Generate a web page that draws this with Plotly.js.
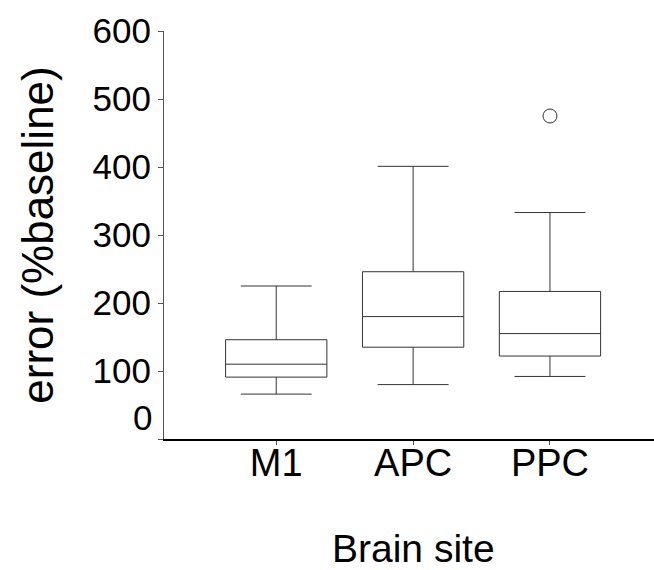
<!DOCTYPE html>
<html>
<head>
<meta charset="utf-8">
<script src="https://cdn.plot.ly/plotly-3.0.1.min.js"></script>
<style>html,body{margin:0;padding:0;background:#fff;}#chart{width:654px;height:570px;}</style>
</head>
<body>
<div id="chart"></div>
<script>
const sites = ["M1", "APC", "PPC"];
const lowerWhisker = [66, 80, 92];
const q1 = [91, 135, 122];
const median = [110, 180, 155];
const q3 = [146, 246, 217];
const upperWhisker = [225, 401, 333];
const outlierSite = ["PPC"];
const outlierValue = [475];
const yTickVals = [0, 100, 200, 300, 400, 500, 600];
const yTickText = ["", "100", "200", "300", "400", "500", "600"];

const font = "Liberation Sans, Arial, sans-serif";

const traces = [
  {
    type: "box",
    x: sites,
    q1: q1,
    median: median,
    q3: q3,
    lowerfence: lowerWhisker,
    upperfence: upperWhisker,
    boxpoints: false,
    width: 0.74,
    whiskerwidth: 0.7,
    fillcolor: "rgba(0,0,0,0)",
    line: {color: "#333", width: 1},
    showlegend: false,
    hoverinfo: "skip"
  },
  {
    type: "scatter",
    mode: "markers",
    x: outlierSite,
    y: outlierValue,
    marker: {symbol: "circle-open", size: 14, color: "#333", line: {width: 1, color: "#333"}},
    showlegend: false,
    hoverinfo: "skip"
  }
];

const layout = {
  width: 654,
  height: 570,
  margin: {l: 164, r: 0, t: 31, b: 131},
  paper_bgcolor: "#fff",
  plot_bgcolor: "#fff",
  font: {family: font, color: "#000"},
  xaxis: {
    type: "category",
    categoryorder: "array",
    categoryarray: sites,
    range: [-0.82, 2.76],
    showline: true,
    linecolor: "#000",
    linewidth: 1.5,
    ticks: "outside",
    ticklen: 4,
    tickcolor: "#555",
    ticklabelstandoff: -14,
    tickfont: {size: 38, family: font, color: "#000"},
    showgrid: false,
    zeroline: false
  },
  yaxis: {
    range: [0, 600],
    tickmode: "array",
    tickvals: yTickVals,
    ticktext: yTickText,
    showline: true,
    linecolor: "#555",
    linewidth: 1,
    ticks: "outside",
    ticklen: 5,
    tickcolor: "#555",
    tickfont: {size: 35, family: font, color: "#000"},
    showgrid: false,
    zeroline: false,
    title: {text: "error (%baseline)", font: {size: 44, family: font, color: "#000"}, standoff: 25}
  },
  annotations: [
    {
      xref: "paper", yref: "y",
      x: 0, y: 0,
      xanchor: "right", yanchor: "middle",
      xshift: -10, yshift: 22,
      text: "0",
      showarrow: false,
      font: {size: 35, family: font, color: "#000"}
    },
    {
      xref: "paper", yref: "paper",
      x: 0.51, y: 0,
      xanchor: "center", yanchor: "middle",
      yshift: -109,
      text: "Brain site",
      showarrow: false,
      font: {size: 39, family: font, color: "#000"}
    }
  ]
};

Plotly.newPlot("chart", traces, layout, {staticPlot: true, displayModeBar: false});
</script>
</body>
</html>
